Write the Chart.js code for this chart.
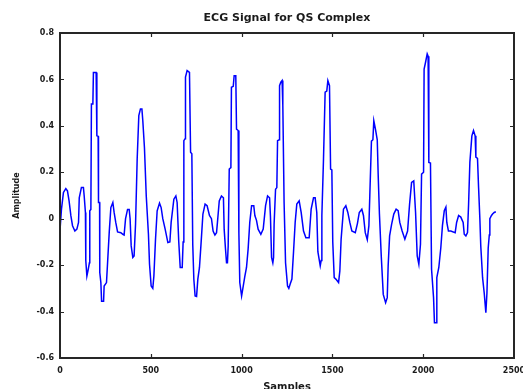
<!DOCTYPE html>
<html>
<head>
<meta charset="utf-8">
<script src="https://cdn.jsdelivr.net/npm/chart.js@4/dist/chart.umd.min.js"></script>
<style>
html,body{margin:0;padding:0;background:#fff;}
canvas{display:block;}
</style>
</head>
<body>
<canvas id="c" width="523" height="389"></canvas>
<script>
const chartTitle = "ECG Signal for QS Complex";
const xTitle = "Samples";
const yTitle = "Amplitude";
const xTicks = [0, 500, 1000, 1500, 2000, 2500];
const yTicks = [-0.6, -0.4, -0.2, 0, 0.2, 0.4, 0.6, 0.8];

const samples = [
0,8,19,32,41,50,60,69,82,93,102,106,118,129,133,140,142,148,155,162,164,170,173,181,184,199,203,210,212,218,219,225,229,240,243,256,262,271,280,291,298,307,317,335,346,353,361,372,381,386,392,401,408,
416,425,434,443,451,456,465,475,487,493,502,511,517,526,535,548,557,566,579,594,605,612,627,638,645,654,662,673,678,682,689,691,700,713,719,726,731,737,744,752,759,768,777,787,799,810,823,
834,843,853,862,867,877,889,900,904,911,917,922,926,932,941,944,954,959,968,972,981,985,990,1000,1009,1018,1027,1036,1045,1055,1067,1073,1082,1091,1106,1119,1132,1143,1154,1159,1165,1172,1176,1179,1187,1194,1198,1207,1209,1216,1223,1227,1234,1242,1253,1260,1268,1277,
1286,1295,1304,1317,1328,1341,1354,1372,1383,1396,1405,1414,1420,1433,1438,1442,1451,1460,1469,1475,1484,1490,1497,1502,1510,1519,1534,1541,1548,1561,1574,1585,1596,1607,1626,1638,1648,1662,1671,1681,1692,
1701,1706,1715,1723,1728,1737,1747,1752,1759,1769,1780,1793,1802,1807,1815,1826,1838,1851,1862,1871,1884,1899,1914,1925,1936,1948,1958,1967,1976,1985,1991,2002,2005,2013,2022,2027,2031,2040,2046,2057,2062,2072,2075,2086,2097,2106,
2116,2125,2130,2139,2152,2176,2184,2195,2207,2220,2226,2235,2244,2250,2257,2268,2277,2286,2290,2299,2305,2312,2317,2327,2336,2345,2351,2358,2364,2367,2376,2382,2391,2400
];
const amplitude = [
-0.05,0.04,0.113,0.13,0.12,0.077,0.012,-0.03,-0.053,-0.045,-0.016,0.09,0.135,0.135,0.1,0.027,-0.18,-0.247,-0.22,-0.19,0.034,0.04,0.494,0.494,0.63,0.63,0.357,0.355,0.07,0.07,-0.232,-0.275,-0.355,-0.355,-0.29,-0.275,-0.19,-0.06,0.048,0.07,0.027,-0.016,-0.057,-0.06,-0.067,-0.07,0,0.04,0.04,0,-0.117,-0.167,-0.16,
-0.024,0.257,0.444,0.473,0.473,0.422,0.307,0.098,-0.067,-0.196,-0.29,-0.3,-0.247,-0.088,0.034,0.067,0.048,0,-0.045,-0.103,-0.1,-0.016,0.084,0.098,0.07,-0.1,-0.21,-0.21,-0.1,0.336,0.345,0.61,0.638,0.63,0.286,0.28,-0.11,-0.261,-0.333,-0.335,-0.26,-0.21,-0.103,0.02,0.063,0.056,0.014,
0,-0.053,-0.07,-0.06,-0.016,0.077,0.098,0.09,-0.045,-0.127,-0.19,-0.19,-0.12,0.214,0.22,0.566,0.57,0.616,0.616,0.386,0.38,-0.06,-0.275,-0.333,-0.29,-0.247,-0.21,-0.13,-0.016,0.056,0.056,0.014,-0.007,-0.045,-0.067,-0.045,0.056,0.098,0.09,0.007,-0.167,-0.19,-0.167,-0.024,0.127,0.134,0.336,0.34,0.573,0.588,0.595,0.489,0.07,-0.19,-0.29,-0.3,-0.28,-0.26,
-0.142,-0.016,0.063,0.077,0.027,-0.053,-0.082,-0.082,0.041,0.09,0.09,0.027,-0.142,-0.203,-0.18,0.014,0.257,0.545,0.55,0.595,0.573,0.214,0.21,-0.1,-0.254,-0.26,-0.275,-0.225,-0.088,0.041,0.056,0.027,-0.016,-0.053,-0.06,-0.02,0.027,0.041,0.014,-0.06,-0.09,
-0.03,0.1,0.334,0.34,0.422,0.386,0.34,0.192,0.02,-0.16,-0.326,-0.362,-0.34,-0.204,-0.074,-0.024,0.02,0.041,0.035,-0.016,-0.053,-0.088,-0.053,0.063,0.156,0.163,0.027,-0.16,-0.196,-0.11,0.192,0.2,0.645,0.674,0.71,0.7,0.242,0.24,-0.218,-0.34,-0.448,-0.448,-0.254,-0.21,-0.125,-0.03,
0.034,0.05,-0.016,-0.053,-0.053,-0.06,-0.016,0.014,0.007,-0.016,-0.067,-0.074,-0.06,0.063,0.243,0.357,0.38,0.357,0.265,0.26,0.134,0,-0.117,-0.254,-0.32,-0.405,-0.32,-0.126,-0.07,0,0.014,0.02,0.027,0.03
];

const FONT = "'DejaVu Sans', sans-serif";
Chart.defaults.color = '#1a1a1a';

const framePlugin = {
  id: 'frame',
  afterDraw(chart) {
    const {ctx, chartArea: {left, right, top, bottom}, scales: {x, y}} = chart;
    ctx.save();
    ctx.strokeStyle = '#262626';
    ctx.lineWidth = 1.2;
    ctx.beginPath();
    x.ticks.forEach(t => {
      if (t.value <= x.min || t.value >= x.max) return;
      const px = Math.round(x.getPixelForValue(t.value)) + 0.5;
      ctx.moveTo(px, bottom); ctx.lineTo(px, bottom - 4);
      ctx.moveTo(px, top); ctx.lineTo(px, top + 4);
    });
    y.ticks.forEach(t => {
      if (t.value <= y.min + 1e-9 || t.value >= y.max - 1e-9) return;
      const py = Math.round(y.getPixelForValue(t.value)) + 0.5;
      ctx.moveTo(left, py); ctx.lineTo(left + 4, py);
      ctx.moveTo(right, py); ctx.lineTo(right - 4, py);
    });
    ctx.stroke();
    ctx.lineWidth = 2;
    ctx.strokeRect(left, top, right - left, bottom - top);
    ctx.restore();
  }
};

new Chart(document.getElementById('c'), {
  type: 'line',
  data: {
    datasets: [{
      data: samples.map((s, i) => ({x: s, y: amplitude[i]})),
      borderColor: '#0000ff',
      borderWidth: 1.5,
      pointRadius: 0,
      tension: 0,
      fill: false
    }]
  },
  options: {
    responsive: false,
    devicePixelRatio: 1,
    animation: false,
    layout: {padding: {left: 0, right: 9, top: 0, bottom: 0}},
    plugins: {
      legend: {display: false},
      tooltip: {enabled: false},
      title: {
        display: true,
        text: chartTitle,
        fullSize: false,
        font: {family: FONT, size: 11, weight: 'bold'},
        color: '#1a1a1a',
        padding: {top: 12, bottom: 7.8}
      }
    },
    scales: {
      x: {
        type: 'linear',
        min: 0, max: 2500,
        afterBuildTicks: s => { s.ticks = xTicks.map(v => ({value: v})); },
        ticks: {
          font: {family: FONT, size: 8, weight: 'bold'},
          padding: 8,
          maxRotation: 0,
          callback: v => String(v)
        },
        grid: {display: false, drawTicks: false},
        border: {display: false},
        title: {
          display: true, text: xTitle,
          font: {family: FONT, size: 10, weight: 'bold'},
          padding: {top: 0, bottom: -4}
        },
        afterFit: s => { s.height = 31; s.paddingLeft = 0; s.paddingRight = 0; }
      },
      y: {
        type: 'linear',
        min: -0.6, max: 0.8,
        afterBuildTicks: s => { s.ticks = yTicks.map(v => ({value: v})); },
        ticks: {
          font: {family: FONT, size: 8, weight: 'bold'},
          padding: 6,
          callback: v => (Math.abs(v) < 1e-9 ? '0' : (Math.round(v * 10) / 10).toString())
        },
        grid: {display: false, drawTicks: false},
        border: {display: false},
        title: {
          display: true, text: yTitle,
          font: {family: FONT, size: 8, weight: 'bold'},
          padding: {top: 12, bottom: 0}
        },
        afterFit: s => { s.width = 60; s.paddingTop = 0; s.paddingBottom = 0; }
      }
    }
  },
  plugins: [framePlugin]
});
</script>
</body>
</html>
